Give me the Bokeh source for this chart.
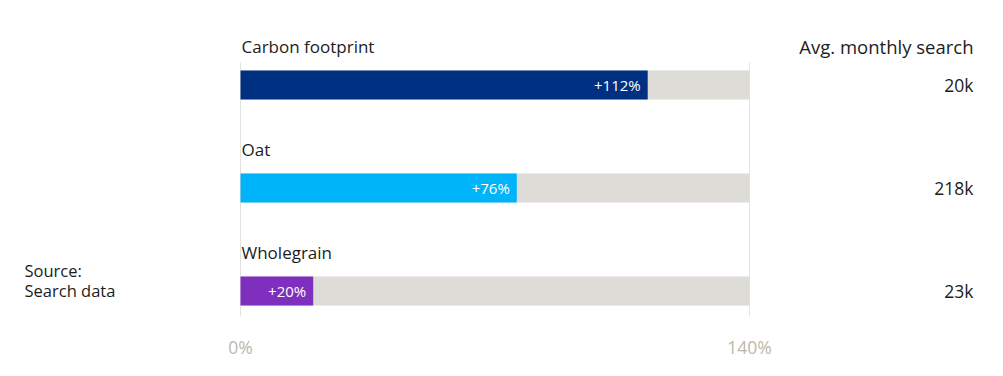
from bokeh.plotting import figure
from bokeh.models import Range1d, FixedTicker, PrintfTickFormatter, ColumnDataSource
from bokeh.core.properties import value
from bokeh.embed import file_html
from bokeh.resources import INLINE

categories = ["Carbon footprint", "Oat", "Wholegrain"]
growth = [112, 76, 20]
searches = ["20k", "218k", "23k"]
colors = ["#003082", "#00b4fa", "#7e2fbd"]
axis_max = 140
ticks = [0, 140]

FONT = "Open Sans"
W, H = 987, 368
left_px, right_px = 240, 749
ppu = (right_px - left_px) / axis_max
x0 = -left_px / ppu
x1 = (W - left_px) / ppu
row_px = 103
top_center = 84.5
frame_h = 316
y_top = -top_center / row_px
y_bot = (frame_h - top_center) / row_px

p = figure(width=W, height=H, output_backend="svg", toolbar_location=None,
           x_range=Range1d(x0, x1), y_range=Range1d(y_bot, y_top),
           min_border_left=0, min_border_right=0, min_border_top=0,
           min_border_bottom=H - frame_h, outline_line_color=None)
p.yaxis.visible = False
p.xgrid.visible = False
p.ygrid.visible = False
p.xaxis.ticker = FixedTicker(ticks=ticks)
p.xaxis.formatter = PrintfTickFormatter(format="%d%%")
p.xaxis.axis_line_color = None
p.xaxis.major_tick_line_color = None
p.xaxis.minor_tick_line_color = None
p.xaxis.major_label_standoff = 12
p.xaxis.major_label_text_font = FONT
p.xaxis.major_label_text_font_size = "17.5px"
p.xaxis.major_label_text_color = "#b9b9a9"

ys = list(range(len(categories)))
bh = 29 / row_px

# gridlines
p.segment(x0=ticks, x1=ticks, y0=[(62 - top_center) / row_px] * 2, y1=[y_bot] * 2,
          line_color="#e2e2de", line_width=1)

src = ColumnDataSource(dict(y=ys, g=growth, c=colors, cat=categories, s=searches,
                            lab=["+%d%%" % v for v in growth],
                            full=[axis_max] * len(ys),
                            ly=[y - 38.5 / row_px for y in ys]))
p.hbar(y="y", left=0, right="full", height=bh, source=src, fill_color="#dddcd6", line_color=None)
p.hbar(y="y", left=0, right="g", height=bh, source=src, fill_color="c", line_color=None)
p.text(x="g", y="y", text="lab", source=src, text_align="right", text_baseline="middle",
       x_offset=-7, text_color="white", text_font=value(FONT), text_font_size="15px")
p.text(x=0, y="ly", text="cat", source=src, text_align="left", text_baseline="middle",
       x_offset=1, text_color="#1c1c1c", text_font=value(FONT), text_font_size="17px")
xr = (973 - left_px) / ppu
p.text(x=xr, y="y", text="s", source=src, text_align="right", text_baseline="middle",
       text_color="#1c1c1c", text_font=value(FONT), text_font_size="17.5px")
p.text(x=[xr], y=[-38.5 / row_px], text=["Avg. monthly search"], text_align="right",
       text_baseline="middle", text_color="#1c1c1c", text_font=value(FONT), text_font_size="18.5px")
xs = (24 - left_px) / ppu
p.text(x=[xs, xs], y=[(270 - top_center) / row_px, (290 - top_center) / row_px],
       text=["Source:", "Search data"], text_align="left", text_baseline="middle",
       text_color="#1c1c1c", text_font=value(FONT), text_font_size="16.5px")

open("out.html", "w").write(file_html(p, INLINE))
